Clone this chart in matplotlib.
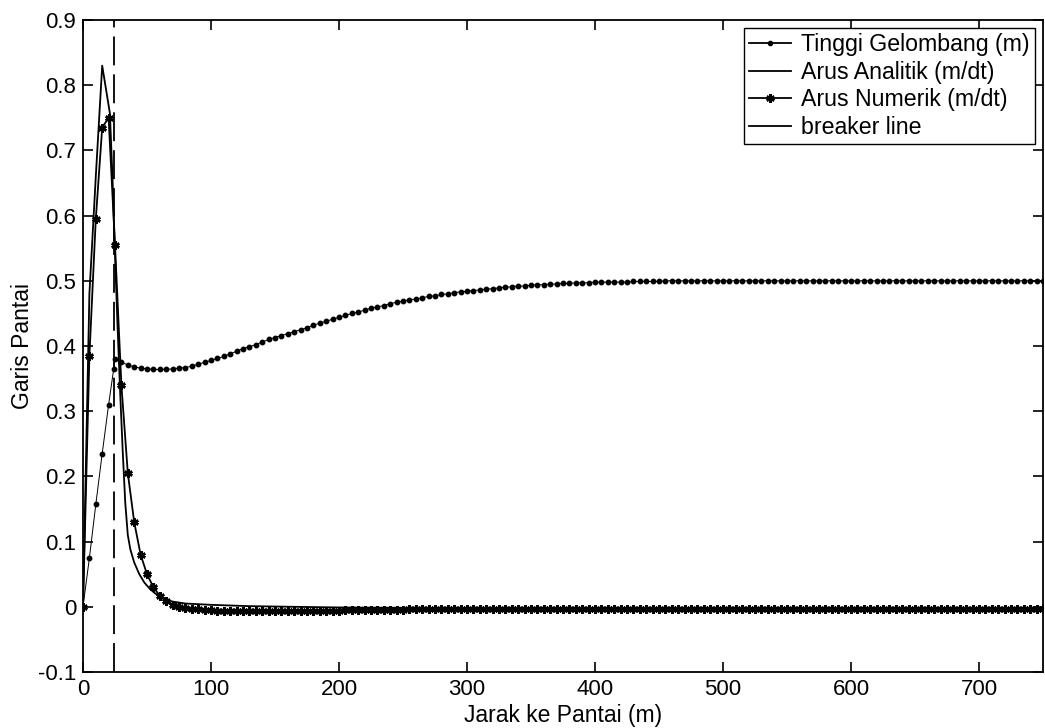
import matplotlib
matplotlib.use("Agg")
import matplotlib.pyplot as plt
from matplotlib.lines import Line2D

plt.rcParams['font.family'] = ['Liberation Sans', 'DejaVu Sans']

# wave height (Tinggi Gelombang), inner surf zone then offshore grid
wave_x = [0, 5, 10, 15, 20, 24] + list(range(25, 755, 5))
wave_h = [0.000, 0.075, 0.157, 0.235, 0.310, 0.365,
          0.380, 0.375, 0.371, 0.368, 0.366, 0.365, 0.364, 0.364, 0.364, 0.365,
          0.366, 0.367, 0.369, 0.372, 0.375, 0.378, 0.381, 0.384, 0.388, 0.392,
          0.396, 0.399, 0.402, 0.406, 0.410, 0.413, 0.416, 0.419, 0.422, 0.425,
          0.428, 0.432, 0.435, 0.438, 0.441, 0.444, 0.447, 0.450, 0.452, 0.455,
          0.458, 0.460, 0.462, 0.465, 0.467, 0.469, 0.471, 0.472, 0.474, 0.476,
          0.477, 0.479, 0.480, 0.482, 0.483, 0.484, 0.485, 0.486, 0.487, 0.488,
          0.489, 0.490, 0.491, 0.492, 0.492, 0.493, 0.494, 0.494, 0.495, 0.495,
          0.496, 0.496, 0.497, 0.497, 0.497, 0.498] \
         + [0.498] * 5 + [0.499] * 5 + [0.500] * 60

# analytic longshore current
ana_x = [0, 5, 10, 15, 21, 23, 25, 27, 29, 31, 33, 35, 37, 40, 44, 48, 52, 56,
         60, 65, 70, 80, 90, 100, 130, 200, 300, 750]
ana_v = [0.000, 0.480, 0.660, 0.830, 0.757, 0.660, 0.540, 0.430, 0.330, 0.240,
         0.160, 0.110, 0.088, 0.068, 0.050, 0.037, 0.028, 0.021, 0.016, 0.011,
         0.008, 0.005, 0.004, 0.003, 0.001, -0.001, -0.002, -0.002]

# numerical longshore current
num_x = list(range(0, 755, 5))
num_v = [0.000, 0.385, 0.595, 0.735, 0.750, 0.555, 0.340, 0.205, 0.130, 0.080,
         0.050, 0.030, 0.017, 0.009, 0.003, -0.001, -0.002, -0.003, -0.004, -0.005,
         -0.005] + [-0.006] * 20 + [-0.005] * 10 + [-0.004] * 20 + [-0.003] * 80

breaker_x = 24.5

xticks = [0, 100, 200, 300, 400, 500, 600, 700]
yticks = [-0.1, 0, 0.1, 0.2, 0.3, 0.4, 0.5, 0.6, 0.7, 0.8, 0.9]
ytick_labels = ['-0.1', '0', '0.1', '0.2', '0.3', '0.4', '0.5', '0.6', '0.7', '0.8', '0.9']

asterisk = (6, 2, 0)

fig = plt.figure(figsize=(10.45, 7.28), dpi=100)
ax = fig.add_axes([83 / 1045, 1 - 672 / 728, 960 / 1045, 652 / 728])

ax.plot(wave_x, wave_h, color='k', lw=0.7, marker='o', ms=3.2)
ax.plot(ana_x, ana_v, color='k', lw=1.3)
ax.plot(num_x, num_v, color='k', lw=1.3, marker=asterisk, ms=6, mew=1.8)
ax.plot([breaker_x, breaker_x], [-0.1, 0.9], color='k', lw=1.3,
        linestyle=(0, (16, 5)))

ax.set_xlim(0, 750)
ax.set_ylim(-0.1, 0.9)
ax.set_xticks(xticks)
ax.set_yticks(yticks)
ax.set_yticklabels(ytick_labels)
ax.tick_params(direction='in', length=7, width=1.2, labelsize=16, pad=5,
               top=True, right=True, colors='k')
for s in ax.spines.values():
    s.set_linewidth(1.3)

ax.set_xlabel('Jarak ke Pantai (m)', fontsize=16.5, labelpad=3)
ax.set_ylabel('Garis Pantai', fontsize=16.5, labelpad=3)

handles = [
    Line2D([], [], color='k', lw=1.3, marker='o', ms=3),
    Line2D([], [], color='k', lw=1.3),
    Line2D([], [], color='k', lw=1.3, marker=asterisk, ms=6, mew=1.8),
    Line2D([], [], color='k', lw=1.3),
]
labels = ['Tinggi Gelombang (m)', 'Arus Analitik (m/dt)',
          'Arus Numerik (m/dt)', 'breaker line']
leg = ax.legend(handles, labels, loc='upper right',
                bbox_to_anchor=((1035 - 83) / 960, (672 - 28) / 652),
                borderaxespad=0, fontsize=16.7, fancybox=False, framealpha=1,
                edgecolor='k', handlelength=1.8, handletextpad=0.45,
                labelspacing=0.2, borderpad=0.22)
leg.get_frame().set_linewidth(1.0)

fig.savefig('out.png', dpi=100)
